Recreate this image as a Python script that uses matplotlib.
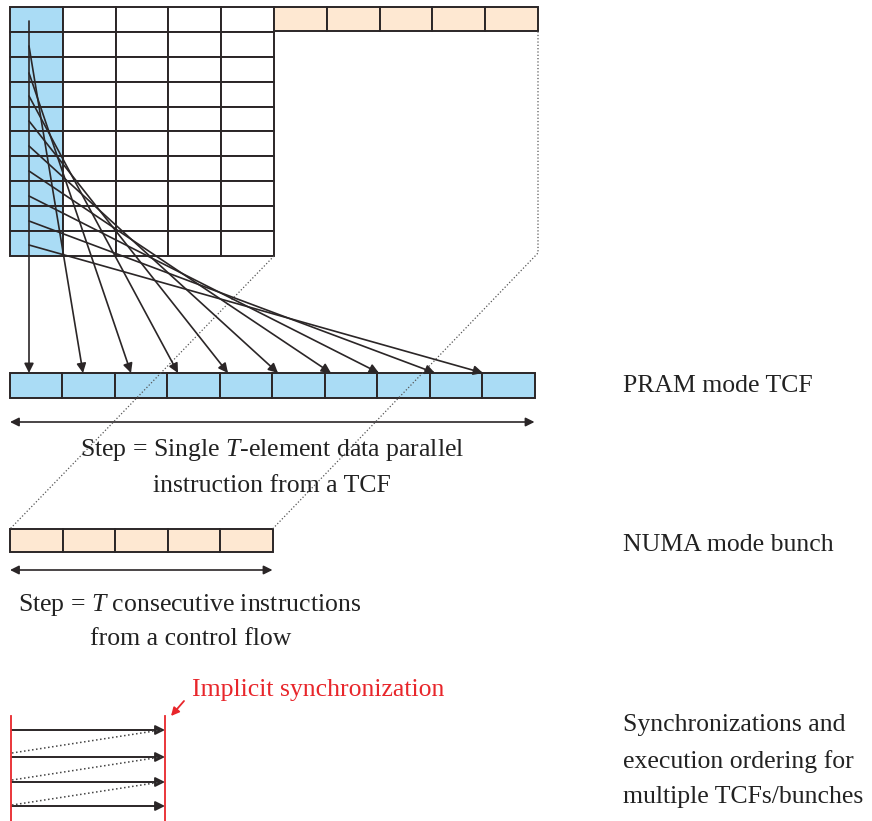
import matplotlib
matplotlib.use('Agg')
import matplotlib.pyplot as plt
from matplotlib.patches import Rectangle, FancyArrowPatch

# ---- diagram data (pixel units, y grows downward) ----
n_rows = 10
n_cols = 5
grid_left, grid_top = 10, 7
cell_w, cell_h = 52.8, 24.9

# where each thread arrow starts (row) and ends (PRAM bar)
arrow_start_x = 29
arrow_start_y = [21, 46, 73, 96, 121, 146, 171, 196, 221, 245]
arrow_tip_x = [29, 83, 131, 178, 228, 278, 331, 379, 435, 483]

pram_left, pram_top, pram_cell_w, pram_h, pram_cells = 10, 373, 52.45, 25, 10
numa_left, numa_top, numa_cell_w, numa_h, numa_cells = 10, 529, 52.5, 23, 5
top_left, top_top, top_h = 274, 7, 24.5

sync_x = [11, 165]
sync_y_top, sync_y_bot = 716, 821
solid_y = [730, 757, 782, 806]
dotted_start_y = [753, 780, 805]

labels_right = ['PRAM mode TCF', 'NUMA mode bunch',
                'Synchronizations and\nexecution ordering for\nmultiple TCFs/bunches']

blue = '#aadcf5'
peach = '#fee8d2'
ink = '#2b2627'
red = '#e8262b'
font = 'Liberation Serif'
fs = 18.5

plt.rcParams['mathtext.fontset'] = 'custom'
plt.rcParams['mathtext.rm'] = 'Liberation Serif'
plt.rcParams['mathtext.it'] = 'Liberation Serif:italic'

fig = plt.figure(figsize=(8.72, 8.21), dpi=100)
ax = fig.add_axes([0, 0, 1, 1])
ax.set_xlim(0, 872)
ax.set_ylim(821, 0)
ax.axis('off')

lw = 1.4

# big grid with blue first column
for r in range(n_rows):
    for c in range(n_cols):
        ax.add_patch(Rectangle((grid_left + c * cell_w, grid_top + r * cell_h), cell_w, cell_h,
                               facecolor=blue if c == 0 else 'white', edgecolor=ink, lw=lw, zorder=1))

# peach row at top right
for c in range(n_cols):
    ax.add_patch(Rectangle((top_left + c * cell_w, top_top), cell_w, top_h,
                           facecolor=peach, edgecolor=ink, lw=lw, zorder=1))

# PRAM bar
for c in range(pram_cells):
    ax.add_patch(Rectangle((pram_left + c * pram_cell_w, pram_top), pram_cell_w, pram_h,
                           facecolor=blue, edgecolor=ink, lw=lw, zorder=1))

# NUMA bunch
for c in range(numa_cells):
    ax.add_patch(Rectangle((numa_left + c * numa_cell_w, numa_top), numa_cell_w, numa_h,
                           facecolor=peach, edgecolor=ink, lw=lw, zorder=1))

# dotted projection lines
grid_right = grid_left + n_cols * cell_w
grid_bottom = grid_top + n_rows * cell_h
top_right = top_left + n_cols * cell_w
numa_right = numa_left + numa_cells * numa_cell_w
ax.plot([grid_right, numa_left], [grid_bottom, numa_top], ls=':', color='#555555', lw=0.9, zorder=2)
ax.plot([top_right, top_right, numa_right], [top_top + top_h, 253, numa_top],
        ls=':', color='#555555', lw=0.9, zorder=2)

# thread arrows
for y0, xt in zip(arrow_start_y, arrow_tip_x):
    ax.add_patch(FancyArrowPatch((arrow_start_x, y0), (xt, pram_top), arrowstyle='-|>',
                                 mutation_scale=14, color=ink, lw=1.2, shrinkA=0, shrinkB=0, zorder=3))

# step span arrows
pram_right = pram_left + pram_cells * pram_cell_w
ax.add_patch(FancyArrowPatch((pram_left, 422), (pram_right, 422), arrowstyle='<|-|>',
                             mutation_scale=13, color=ink, lw=1.2, shrinkA=0, shrinkB=0))
ax.add_patch(FancyArrowPatch((numa_left, 570), (numa_right, 570), arrowstyle='<|-|>',
                             mutation_scale=13, color=ink, lw=1.2, shrinkA=0, shrinkB=0))

ax.text(272, 450, 'Step = Single $\\mathit{T}$-element data parallel', ha='center', va='center',
        fontsize=fs, family=font, color='#222222')
ax.text(272, 486, 'instruction from a TCF', ha='center', va='center',
        fontsize=fs, family=font, color='#222222')
ax.text(190, 605, 'Step = $\\mathit{T}$ consecutive instructions', ha='center', va='center',
        fontsize=fs, family=font, color='#222222')
ax.text(191, 639, 'from a control flow', ha='center', va='center',
        fontsize=fs, family=font, color='#222222')

# right labels
ax.text(623, 386, labels_right[0], ha='left', va='center', fontsize=fs, family=font, color='#222222')
ax.text(623, 545, labels_right[1], ha='left', va='center', fontsize=fs, family=font, color='#222222')
ax.text(623, 761, labels_right[2], ha='left', va='center', fontsize=fs, family=font,
        color='#222222', linespacing=1.8)

# synchronization sketch
for x in sync_x:
    ax.plot([x, x], [sync_y_top, sync_y_bot], color=red, lw=1.3)
for y in solid_y:
    ax.add_patch(FancyArrowPatch((sync_x[0] + 1, y), (sync_x[1], y), arrowstyle='-|>',
                                 mutation_scale=14, color=ink, lw=1.4, shrinkA=0, shrinkB=0))
for y0, y1 in zip(dotted_start_y, solid_y[:-1]):
    ax.plot([sync_x[0] + 1, sync_x[1] - 4], [y0, y1], ls=':', color='#444444', lw=1.1)

ax.text(318, 690, 'Implicit synchronization', ha='center', va='center', fontsize=fs,
        family=font, color=red)
ax.add_patch(FancyArrowPatch((184, 701), (171, 716), arrowstyle='-|>', mutation_scale=12,
                             color=red, lw=1.3, shrinkA=0, shrinkB=0))

fig.savefig('out.png', dpi=100)
